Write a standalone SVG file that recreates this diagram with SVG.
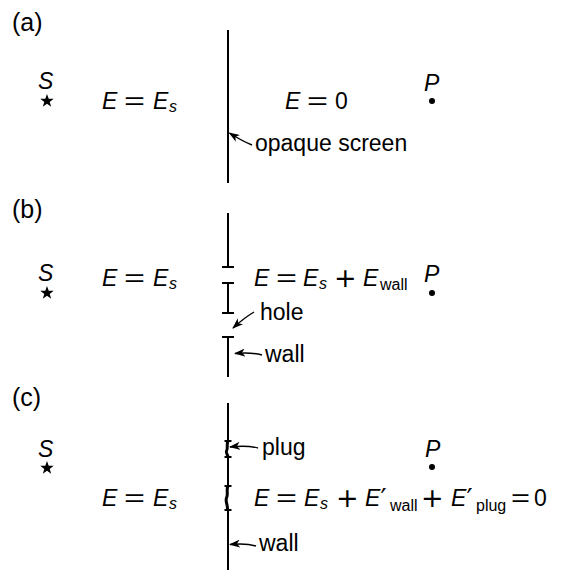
<svg xmlns="http://www.w3.org/2000/svg" width="561" height="579" viewBox="0 0 561 579">
<style>
text{font-family:"Liberation Sans",Arial,sans-serif;font-size:23px;fill:#000}
.lbl{font-size:25px}
.it{font-style:italic}
.sub{font-size:16px;font-style:normal}
.subi{font-size:16px;font-style:italic}
.op{font-family:"DejaVu Sans",sans-serif;font-size:27px}
.pr{font-family:"DejaVu Sans",sans-serif;font-size:27px;font-style:normal}
.scr{stroke:#000;stroke-width:2;fill:none}
.plug{stroke:#000;stroke-width:3;fill:none}
.arr{stroke:#000;stroke-width:1.4;fill:none;marker-end:url(#ah)}
</style>
<defs>
<marker id="ah" markerUnits="userSpaceOnUse" markerWidth="11" markerHeight="8" refX="10" refY="4" orient="auto">
<path d="M0,0 L11,4 L0,8 L3,4 Z" fill="#000"/>
</marker>
<path id="star" d="M0,-7 L1.7,-2.3 L6.7,-2.2 L2.7,0.9 L4.2,5.8 L0,2.8 L-4.2,5.8 L-2.7,0.9 L-6.7,-2.2 L-1.7,-2.3 Z" fill="#000"/>
</defs>

<!-- Panel (a) -->
<g id="panel-a">
<text class="lbl" x="12" y="31">(a)</text>
<g id="a-source"><text class="it" x="38" y="89">S</text><use href="#star" x="47" y="101"/></g>
<g id="a-left"><text class="it" x="102" y="109">E</text><text x="124" y="109" textLength="21" lengthAdjust="spacingAndGlyphs">=</text><text class="it" x="153" y="109">E<tspan class="subi" x="169" y="112">s</tspan></text></g>
<g id="a-screen"><line class="scr" x1="228" y1="30" x2="228" y2="183"/></g>
<g id="a-right"><text class="it" x="285" y="109">E</text><text x="307" y="109" textLength="21" lengthAdjust="spacingAndGlyphs">=</text><text x="335" y="109">0</text></g>
<g id="a-point"><text class="it" x="424" y="91">P</text><circle cx="432" cy="101" r="3"/></g>
<g id="a-label"><text x="255" y="151">opaque screen</text></g>
</g>

<!-- Panel (b) -->
<g id="panel-b">
<text class="lbl" x="12" y="218">(b)</text>
<g id="b-source"><text class="it" x="38" y="281">S</text><use href="#star" x="47" y="293"/></g>
<g id="b-left"><text class="it" x="102" y="286">E</text><text x="124" y="286" textLength="21" lengthAdjust="spacingAndGlyphs">=</text><text class="it" x="153" y="286">E<tspan class="subi" x="169" y="289">s</tspan></text></g>
<g id="b-wall">
<path class="scr" d="M228,213 V267 M222,267 H234 M222,283 H234 M228,283 V313 M222,313 H234 M222,337 H234 M228,337 V377"/>
</g>
<g id="b-right"><text class="it" x="254" y="286">E</text><text x="276" y="286" textLength="21" lengthAdjust="spacingAndGlyphs">=</text><text class="it" x="303" y="286">E<tspan class="subi" x="319" y="289">s</tspan></text><text class="op" x="334" y="287">+</text><text class="it" x="363" y="286">E<tspan class="sub" x="380" y="290">wall</tspan></text></g>
<g id="b-point"><text class="it" x="424" y="282">P</text><circle cx="432" cy="293" r="3"/></g>
<g id="b-hole-label"><text x="260" y="320">hole</text></g>
<g id="b-wall-label"><text x="265" y="362">wall</text></g>
</g>

<!-- Panel (c) -->
<g id="panel-c">
<text class="lbl" x="12" y="406">(c)</text>
<g id="c-source"><text class="it" x="38" y="457">S</text><use href="#star" x="47" y="468"/></g>
<g id="c-wall">
<path class="scr" d="M228,403 V441 M228,457 V486 M228,510 V570"/>
</g>
<g id="c-plug1"><path class="scr" d="M224.5,441 H231.5 M224.5,457 H231.5"/><path class="plug" d="M228,441 C226,445 228.5,448 226.5,451 C225.5,453 228,455 228,457"/></g>
<g id="c-plug2"><path class="scr" d="M224.5,486 H231.5 M224.5,510 H231.5"/><path class="plug" d="M228,486 C226,490 228.5,494 226.5,498 C225,501 228,505 227.5,510"/></g>
<g id="c-point"><text class="it" x="425" y="457">P</text><circle cx="432" cy="467" r="3"/></g>
<g id="c-left"><text class="it" x="102" y="506">E</text><text x="124" y="506" textLength="21" lengthAdjust="spacingAndGlyphs">=</text><text class="it" x="153" y="506">E<tspan class="subi" x="169" y="509">s</tspan></text></g>
<g id="c-right"><text class="it" x="254" y="506">E</text><text x="276" y="506" textLength="21" lengthAdjust="spacingAndGlyphs">=</text><text class="it" x="304" y="506">E<tspan class="subi" x="320" y="509">s</tspan></text><text class="op" x="336" y="507">+</text><text class="it" x="365" y="506">E<tspan class="pr" x="380.5" y="508">′</tspan><tspan class="sub" x="390" y="511">wall</tspan></text><text class="op" x="421" y="507">+</text><text class="it" x="451" y="506">E<tspan class="pr" x="466.5" y="508">′</tspan><tspan class="sub" x="476" y="511">plug</tspan></text><text x="511" y="506" textLength="19" lengthAdjust="spacingAndGlyphs">=</text><text x="534" y="506">0</text></g>
<g id="c-plug-label"><text x="262" y="455">plug</text></g>
<g id="c-wall-label"><text x="259" y="551">wall</text></g>
</g>

<g id="connectors">
<path class="arr" d="M252,145 Q242,141 229.5,133"/>
<path class="arr" d="M254,312 Q244,318 233,328"/>
<path class="arr" d="M262,355 Q250,352 235,353.5"/>
<path class="arr" d="M258,448 Q246,445 230,447"/>
<path class="arr" d="M256,546 Q246,543 230,544.5"/>
</g>
</svg>
